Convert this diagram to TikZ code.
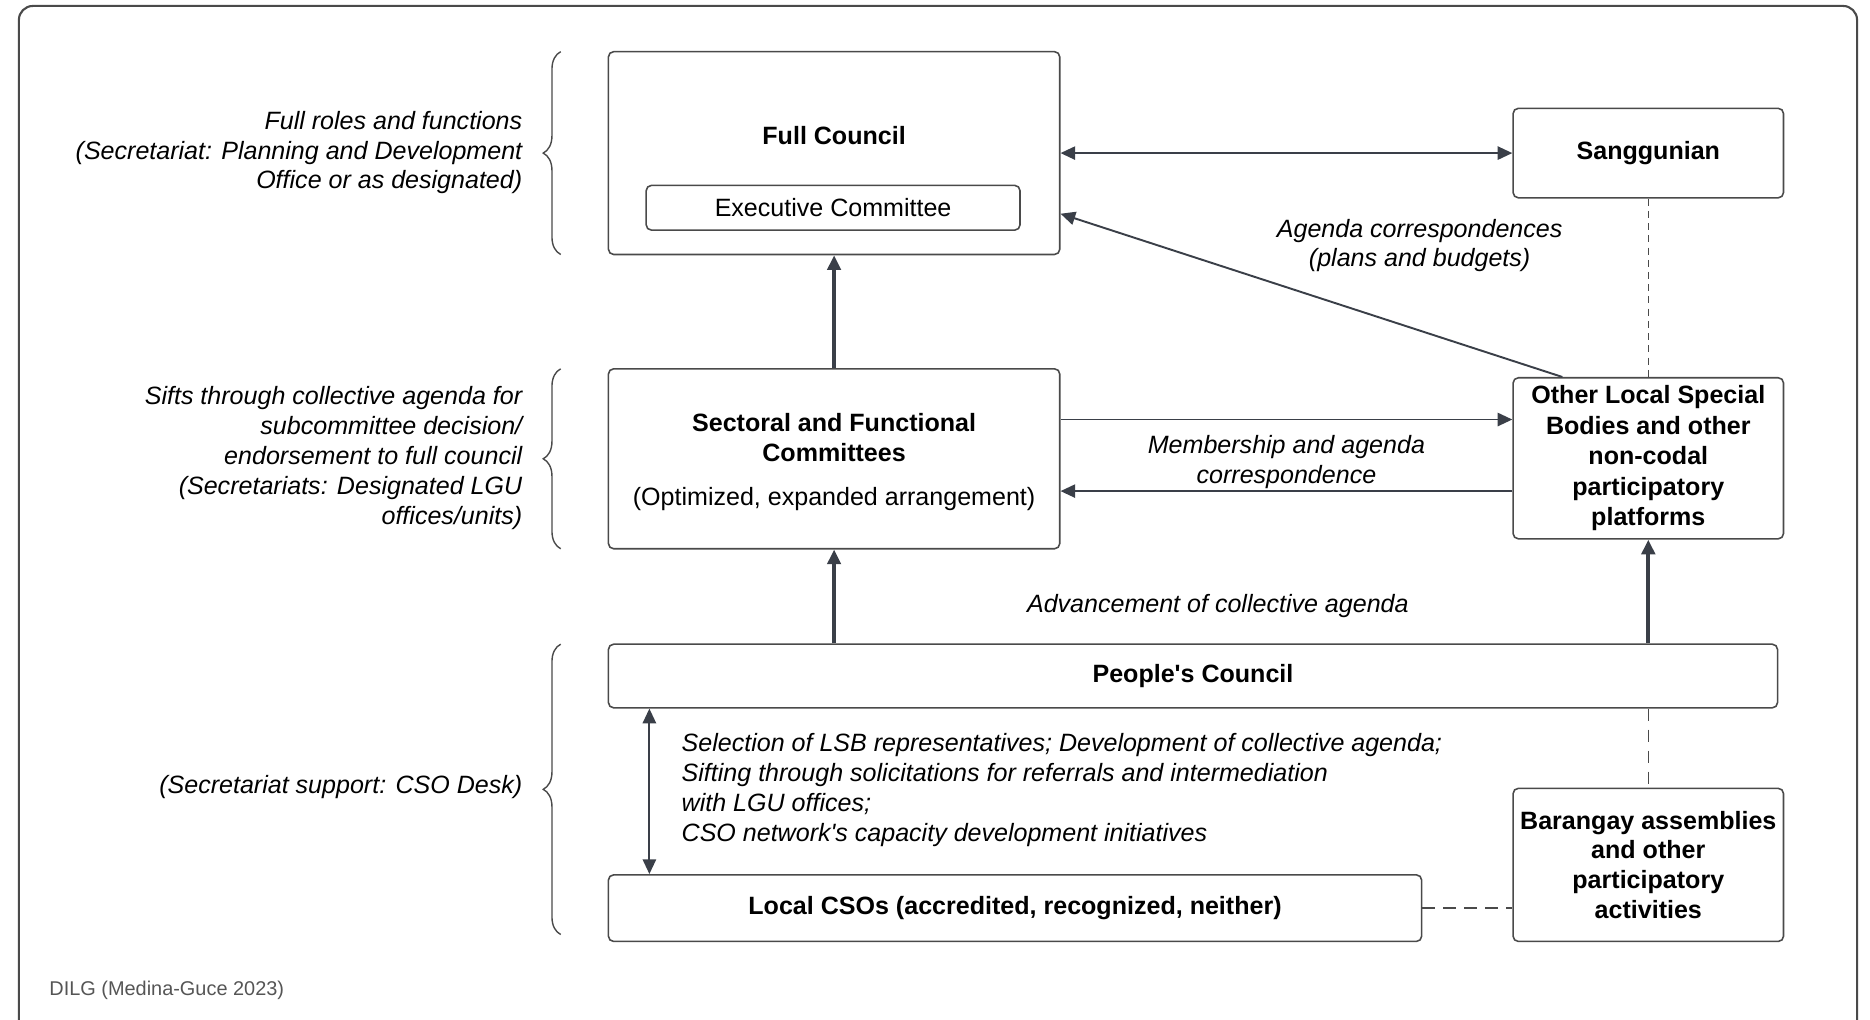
\documentclass[tikz,border=0pt]{standalone}
\usepackage{fontspec}
\setmainfont{Liberation Sans}
\usetikzlibrary{arrows.meta,positioning,calc,decorations.pathreplacing}
\definecolor{linegray}{HTML}{4A4A4A}
\definecolor{arrowgray}{HTML}{3A3F48}
\definecolor{notegray}{HTML}{555555}

\begin{document}
\begin{tikzpicture}[
  font=\fontsize{7.17}{8.55}\selectfont,
  >={Triangle[length=4.2pt,width=3.8pt]},
  box/.style={draw=linegray, line width=0.45pt, rounded corners=1.5pt, inner sep=0pt, align=center},
  bold/.style={font=\fontsize{7.17}{8.55}\selectfont\bfseries, align=center},
  note/.style={font=\fontsize{7.17}{8.55}\selectfont\itshape, align=right, anchor=east, inner sep=0pt},
  flow/.style={draw=arrowgray, line width=0.55pt, ->},
  bigflow/.style={flow, line width=1.1pt},
  link/.style={draw=linegray, line width=0.45pt, dash pattern=on 3.5pt off 2.5pt},
  bracket/.style={draw=linegray, line width=0.4pt, decorate, decoration={brace, amplitude=5pt}}
]
\useasboundingbox (0,0) rectangle (18.81,-10.26);
\draw[linegray, line width=0.6pt, rounded corners=4pt] (0.19,-10.6) |- (18.68,-0.06) -- (18.68,-10.6);

% boxes
\node[box, minimum width=4.54cm, minimum height=2.04cm] (fullc) at (8.39,-1.54) {};
\node[bold, inner sep=0pt] (fullct) at (8.39,-1.36) {Full Council};
\node[box, minimum width=3.76cm, minimum height=0.45cm] (exec) at (8.38,-2.09) {Executive Committee};
\node[box, bold, minimum width=2.72cm, minimum height=0.90cm] (sang) at (16.58,-1.54) {Sanggunian};

\node[box, minimum width=4.54cm, minimum height=1.81cm] (sect) at (8.39,-4.615) {};
\node[bold, inner sep=0pt] (sectt) at (8.39,-4.405) {Sectoral and Functional\\Committees};
\node[inner sep=0pt] (secto) at (8.39,-5.02) {(Optimized, expanded arrangement)};
\node[box, bold, minimum width=2.72cm, minimum height=1.62cm, font=\fontsize{7.17}{8.7}\selectfont\bfseries] (olsb) at (16.58,-4.61)
  {Other Local Special\\Bodies and other\\non-codal\\participatory\\platforms};

\node[box, bold, minimum width=11.76cm, minimum height=0.64cm] (pc) at (12.0,-6.80) {People\textquotesingle s Council};
\node[box, bold, minimum width=8.18cm, minimum height=0.67cm] (cso) at (10.21,-9.135)
  {Local CSOs (accredited, recognized, neither)};
\node[box, bold, minimum width=2.72cm, minimum height=1.54cm] (bar) at (16.58,-8.70)
  {Barangay assemblies\\and other\\participatory\\activities};

% connectors
\draw[flow, <->] (fullc.east) -- (sang.west);
\coordinate (ag) at ($(olsb.north west)!0.184!(olsb.north east)$);
\draw[flow] (ag) -- ([yshift=-6.1mm]fullc.east);
\draw[link, line width=0.35pt, dash pattern=on 2pt off 1.5pt] (sang.south) -- (olsb.north);
\node[font=\fontsize{7.17}{8.55}\selectfont\itshape, align=center] (agt) at (14.28,-2.47)
  {Agenda correspondences\\(plans and budgets)};

\coordinate (so) at ([yshift=3.95mm]sect.east);
\draw[flow] (so) -- (so -| olsb.west);
\coordinate (os) at ([yshift=-3.3mm]olsb.west);
\draw[flow] (os) -- (os -| sect.east);
\node[font=\fontsize{7.17}{8.55}\selectfont\itshape, align=center] (memt) at (12.94,-4.65)
  {Membership and agenda\\correspondence};

\draw[bigflow] (sect.north) -- (fullc.south);
\draw[bigflow] (sect.south |- pc.north) -- (sect.south);
\draw[bigflow] (olsb.south |- pc.north) -- (olsb.south);
\node[font=\fontsize{7.17}{8.55}\selectfont\itshape] (advt) at (12.25,-6.10) {Advancement of collective agenda};

\coordinate (cs) at ([xshift=4.2mm]cso.north west);
\draw[flow, <->] (cs) -- (cs |- pc.south);
\node[font=\fontsize{7.17}{8.6}\selectfont\itshape, align=left, anchor=west, inner sep=0pt] (pct) at (6.85,-7.945)
  {Selection of LSB representatives; Development of collective agenda;\\
   Sifting through solicitations for referrals and intermediation\\
   with LGU offices;\\
   CSO network\textquotesingle s capacity development initiatives};

\draw[link] (bar.north |- pc.south) -- (bar.north);
\draw[link] (cso.east) -- (cso.east -| bar.west);

% left notes
\draw[bracket] (5.64,-2.56) -- (5.64,-0.52);
\node[note] (n1) at (5.26,-1.535)
  {Full roles and functions\\(Secretariat: Planning and Development\\Office or as designated)};
\draw[bracket] (5.64,-5.52) -- (5.64,-3.71);
\node[note, font=\fontsize{7.17}{8.6}\selectfont\itshape] (n2) at (5.26,-4.61)
  {Sifts through collective agenda for\\subcommittee decision/\\endorsement to full council\\(Secretariats: Designated LGU\\offices/units)};
\draw[bracket] (5.64,-9.40) -- (5.64,-6.48);
\node[note] (n3) at (5.26,-7.92) {(Secretariat support: CSO Desk)};

\node[anchor=west, inner sep=0pt, text=notegray, font=\fontsize{5.7}{7}\selectfont] (src) at (0.49,-9.96)
  {DILG (Medina-Guce 2023)};
\end{tikzpicture}
\end{document}
